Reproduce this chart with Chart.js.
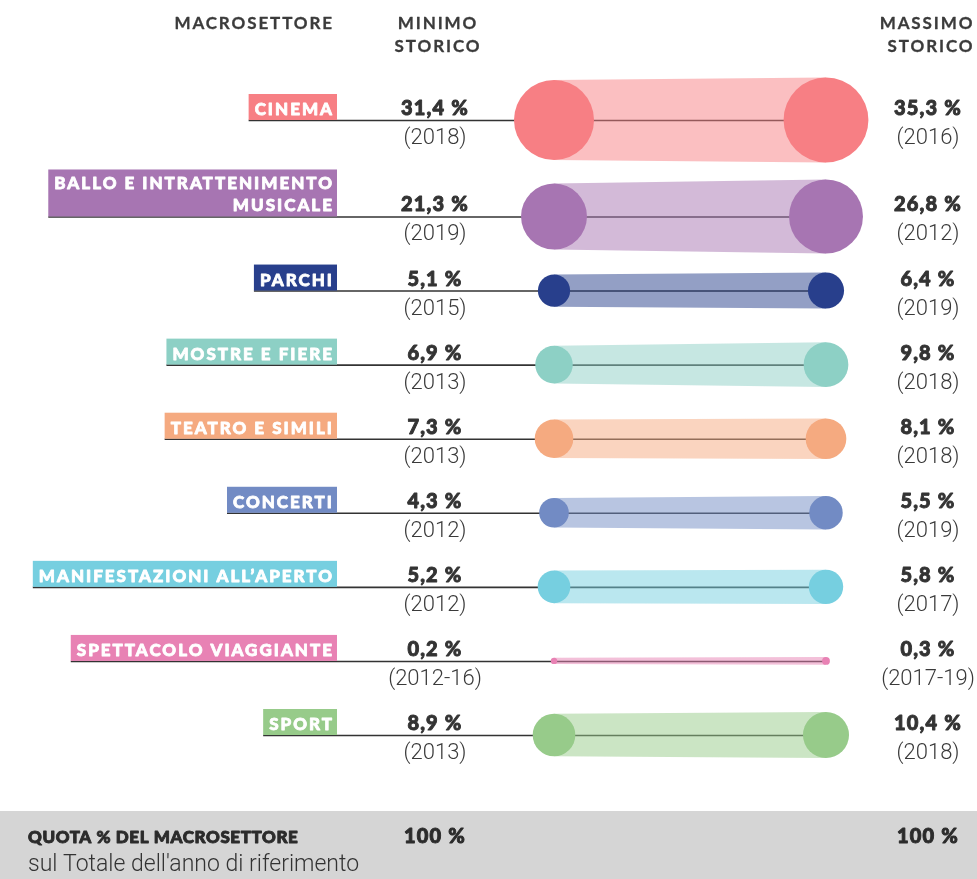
<!DOCTYPE html>
<html>
<head>
<meta charset="utf-8">
<script src="https://cdn.jsdelivr.net/npm/chart.js@4.4.1/dist/chart.umd.min.js"></script>
<style>
  html, body { margin: 0; padding: 0; background: #ffffff; }
  #wrap { position: relative; width: 977px; height: 879px; }
</style>
</head>
<body>
<div id="wrap"><canvas id="c"></canvas></div>
<script>
// ---- DATA ----
const categories = [
  'CINEMA',
  ['BALLO E INTRATTENIMENTO', 'MUSICALE'],
  'PARCHI',
  'MOSTRE E FIERE',
  'TEATRO E SIMILI',
  'CONCERTI',
  'MANIFESTAZIONI ALL\u2019APERTO',
  'SPETTACOLO VIAGGIANTE',
  'SPORT'
];
const minValues = [31.4, 21.3, 5.1, 6.9, 7.3, 4.3, 5.2, 0.2, 8.9];
const minYears  = ['2018', '2019', '2015', '2013', '2013', '2012', '2012', '2012-16', '2013'];
const maxValues = [35.3, 26.8, 6.4, 9.8, 8.1, 5.5, 5.8, 0.3, 10.4];
const maxYears  = ['2016', '2012', '2019', '2018', '2018', '2019', '2017', '2017-19', '2018'];
const totalMin = 100;
const totalMax = 100;

// ---- STYLE ----
const colors = ['#f77f84', '#a775b2', '#283f8c', '#8dd0c5', '#f5aa80', '#728bc4', '#76cfe0', '#e882b4', '#97cb8a'];
const DARK = '#333333';
const RADIUS_K = 7.14;          // px per sqrt(percent)
const ROW_PX = 74;              // standard row spacing in px
const PAD_PX = 17;              // minimal gap between bubbles of adjacent rows
const radius = v => RADIUS_K * Math.sqrt(v);

// row positions derived from bubble sizes (rows are spread when bubbles would touch)
const rowPos = [0];
for (let i = 1; i < categories.length; i++) {
  const rPrev = radius(Math.max(minValues[i - 1], maxValues[i - 1]));
  const rCur = radius(Math.max(minValues[i], maxValues[i]));
  rowPos.push(rowPos[i - 1] + Math.max(1, (rPrev + rCur + PAD_PX) / ROW_PX));
}

const fmt = v => v.toFixed(1).replace('.', ',') + ' %';
const alpha = (hex, a) => {
  const n = parseInt(hex.slice(1), 16);
  return `rgba(${(n >> 16) & 255},${(n >> 8) & 255},${n & 255},${a})`;
};

const LABEL_RIGHT = 337;
const MIN_X = 435;
const MAX_X = 928;
const LABEL_FONT = '900 17px Lato';
const LABEL_SPACING = '2px';

// heavy text: fill + thin stroke of same colour (emulates a black weight)
function heavyText(ctx, txt, x, y, color, sw) {
  ctx.fillStyle = color;
  ctx.strokeStyle = color;
  ctx.lineWidth = sw;
  ctx.lineJoin = 'round';
  ctx.strokeText(txt, x, y);
  ctx.fillText(txt, x, y);
}

function labelBox(ctx, label) {
  const lines = Array.isArray(label) ? label : [label];
  ctx.save();
  ctx.font = LABEL_FONT;
  ctx.letterSpacing = LABEL_SPACING;
  const w = Math.max(...lines.map(l => ctx.measureText(l).width));
  ctx.restore();
  return { lines, w: w + 9, h: lines.length === 1 ? 26 : 47 };
}

const dumbbellPlugin = {
  id: 'dumbbell',
  beforeDatasetsDraw(chart) {
    const ctx = chart.ctx;
    const mMin = chart.getDatasetMeta(0).data;
    const mMax = chart.getDatasetMeta(1).data;
    // footer band
    ctx.save();
    ctx.fillStyle = '#d5d5d5';
    ctx.fillRect(0, 811, chart.width, chart.height - 811);
    ctx.restore();
    categories.forEach((cat, i) => {
      const a = mMin[i], b = mMax[i];
      const y = a.y;
      const box = labelBox(ctx, cat);
      // connector line
      ctx.save();
      ctx.strokeStyle = DARK;
      ctx.lineWidth = 1.6;
      ctx.beginPath();
      ctx.moveTo(LABEL_RIGHT - box.w, y + 0.5);
      ctx.lineTo(b.x, y + 0.5);
      ctx.stroke();
      // band between bubbles
      const ra = a.options.radius, rb = b.options.radius;
      ctx.fillStyle = alpha(colors[i], 0.5);
      ctx.beginPath();
      ctx.moveTo(a.x, a.y - ra);
      ctx.lineTo(b.x, b.y - rb);
      ctx.lineTo(b.x, b.y + rb);
      ctx.lineTo(a.x, a.y + ra);
      ctx.closePath();
      ctx.fill();
      ctx.restore();
    });
  },
  afterDatasetsDraw(chart) {
    const ctx = chart.ctx;
    const mMin = chart.getDatasetMeta(0).data;
    ctx.save();
    ctx.textBaseline = 'alphabetic';
    // headers
    ctx.font = '700 17px Lato';
    ctx.letterSpacing = '1.9px';
    ctx.textAlign = 'right';
    heavyText(ctx, 'MACROSETTORE', 334, 29, '#3b3b3b', 0.3);
    ctx.textAlign = 'center';
    heavyText(ctx, 'MINIMO', 438, 29, '#3b3b3b', 0.3);
    heavyText(ctx, 'STORICO', 438, 52, '#3b3b3b', 0.3);
    heavyText(ctx, 'MASSIMO', 927, 29, '#3b3b3b', 0.3);
    heavyText(ctx, 'STORICO', 931, 52, '#3b3b3b', 0.3);

    categories.forEach((cat, i) => {
      const y = mMin[i].y;
      const box = labelBox(ctx, cat);
      // label box
      ctx.fillStyle = colors[i];
      ctx.fillRect(LABEL_RIGHT - box.w, y - box.h, box.w, box.h);
      ctx.font = LABEL_FONT;
      ctx.letterSpacing = LABEL_SPACING;
      ctx.textAlign = 'right';
      box.lines.forEach((ln, k) => {
        const base = y - 5 - (box.lines.length - 1 - k) * 22;
        heavyText(ctx, ln, LABEL_RIGHT - 3, base, '#ffffff', 0.8);
      });
      // values
      ctx.textAlign = 'center';
      ctx.font = '900 20px Lato';
      ctx.letterSpacing = '1.2px';
      heavyText(ctx, fmt(minValues[i]), MIN_X, y - 5, '#333333', 0.9);
      heavyText(ctx, fmt(maxValues[i]), MAX_X, y - 5, '#333333', 0.9);
      ctx.font = '300 22px Roboto';
      ctx.letterSpacing = '0px';
      ctx.fillStyle = '#3a3a3a';
      ctx.fillText('(' + minYears[i] + ')', MIN_X, y + 24);
      ctx.fillText('(' + maxYears[i] + ')', MAX_X, y + 24);
    });

    // footer
    ctx.textAlign = 'left';
    ctx.font = '900 17px Lato';
    ctx.letterSpacing = '0.6px';
    heavyText(ctx, 'QUOTA % DEL MACROSETTORE', 28, 843, '#2b2b2b', 0.9);
    ctx.font = '300 23px Roboto';
    ctx.letterSpacing = '0px';
    ctx.fillStyle = '#333333';
    ctx.fillText("sul Totale dell'anno di riferimento", 28, 871);
    ctx.textAlign = 'center';
    ctx.font = '900 20px Lato';
    ctx.letterSpacing = '1.2px';
    heavyText(ctx, totalMin + ' %', MIN_X, 843, '#2b2b2b', 0.9);
    heavyText(ctx, totalMax + ' %', MAX_X, 843, '#2b2b2b', 0.9);
    ctx.restore();
  }
};

new Chart(document.getElementById('c'), {
  type: 'bubble',
  data: {
    datasets: [
      {
        label: 'Minimo storico',
        data: minValues.map((v, i) => ({ x: 0, y: rowPos[i], r: radius(v) })),
        backgroundColor: colors,
        borderWidth: 0,
        hoverRadius: 0,
        clip: false
      },
      {
        label: 'Massimo storico',
        data: maxValues.map((v, i) => ({ x: 1, y: rowPos[i], r: radius(v) })),
        backgroundColor: colors,
        borderWidth: 0,
        hoverRadius: 0,
        clip: false
      }
    ]
  },
  options: {
    responsive: true,
    maintainAspectRatio: false,
    animation: false,
    events: [],
    layout: { padding: { left: 554, right: 151, top: 120, bottom: 144 } },
    plugins: { legend: { display: false }, tooltip: { enabled: false }, title: { display: false } },
    scales: {
      x: { type: 'linear', min: 0, max: 1, display: false },
      y: { type: 'linear', min: 0, max: rowPos[rowPos.length - 1], reverse: true, display: false }
    }
  },
  plugins: [dumbbellPlugin]
});
</script>
</body>
</html>
